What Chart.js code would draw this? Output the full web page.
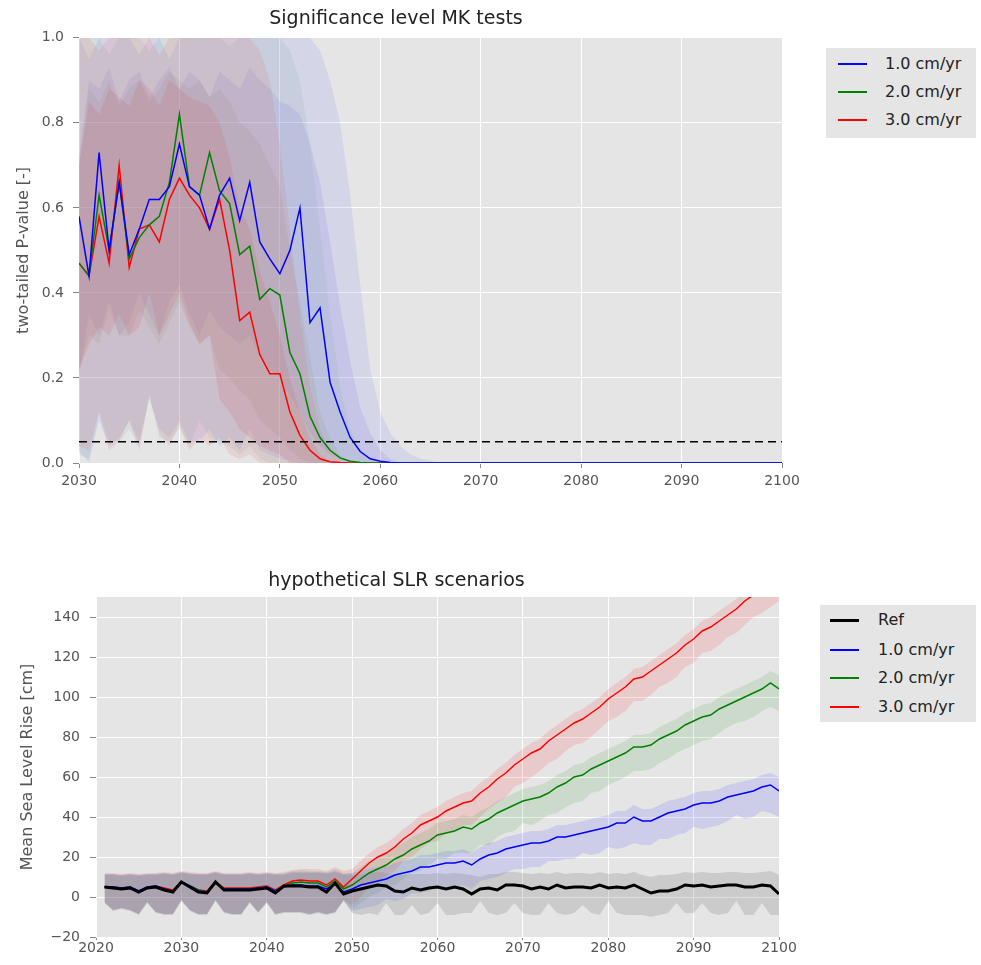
<!DOCTYPE html>
<html>
<head>
<meta charset="utf-8">
<script src="https://cdn.jsdelivr.net/npm/chart.js@4"></script>
<style>
  body { margin: 0; background: #fff; width: 981px; height: 965px; position: relative; overflow: hidden; font-family: 'DejaVu Sans', sans-serif; }
  canvas { position: absolute; left: 0; }
  .legend { position: absolute; background: #e5e5e5; }
  .legend .row { position: absolute; left: 0; height: 20px; width: 100%; }
  .legend .swatch { position: absolute; width: 29px; }
  .legend .txt { position: absolute; top: 0; font-size: 16px; line-height: 20px; color: #222; white-space: nowrap; }
</style>
</head>
<body>
<canvas id="pChart" width="861" height="500" style="top:0"></canvas>
<canvas id="slrChart" width="875" height="410" style="top:555px"></canvas>
<div id="legendTop" class="legend" style="left:826px; top:48px; width:150px; height:90px"></div>
<div id="legendBottom" class="legend" style="left:820px; top:605px; width:156px; height:117px"></div>
<script>
// ---------- top chart: MK test p-values ----------
const pYears = [];
for (let y = 2030; y <= 2100; y++) pYears.push(y);
const scenarios = ['1.0 cm/yr', '2.0 cm/yr', '3.0 cm/yr'];
const pThreshold = 0.05;

const pBlue = [0.58,0.44,0.73,0.50,0.66,0.49,0.55,0.62,0.62,0.65, 0.75,0.65,0.63,0.55,0.63,0.67,0.57,0.66,0.52,0.48,
  0.445,0.50,0.60,0.33,0.365,0.19,0.12,0.06,0.027,0.01, 0.004,0.001,0,0,0,0,0,0,0,0,
  0,0,0,0,0,0,0,0,0,0, 0,0,0,0,0,0,0,0,0,0, 0,0,0,0,0,0,0,0,0,0, 0];
const pGreen = [0.47,0.44,0.63,0.50,0.66,0.48,0.53,0.56,0.58,0.66, 0.82,0.65,0.63,0.73,0.64,0.61,0.49,0.51,0.385,0.41,
  0.395,0.26,0.21,0.11,0.06,0.03,0.012,0.004,0.001,0, 0,0,0,0,0,0,0,0,0,0,
  0,0,0,0,0,0,0,0,0,0, 0,0,0,0,0,0,0,0,0,0, 0,0,0,0,0,0,0,0,0,0, 0];
const pRed = [0.47,0.44,0.58,0.47,0.70,0.46,0.55,0.56,0.52,0.62, 0.67,0.63,0.60,0.55,0.62,0.50,0.335,0.355,0.255,0.21,
  0.21,0.12,0.065,0.03,0.01,0.003,0.001,0,0,0, 0,0,0,0,0,0,0,0,0,0,
  0,0,0,0,0,0,0,0,0,0, 0,0,0,0,0,0,0,0,0,0, 0,0,0,0,0,0,0,0,0,0, 0];

// percentile bands (from 2030 onward)
const blueP95 = [1,0.95,1,1,1,1,0.96,1,1,0.95, 1,1,1,1,1,1,1,1,1,1, 1,1,1,1,0.97,0.9,0.8,0.63,0.42,0.22, 0.12,0.07,0.04,0.02,0.01,0.005,0];
const blueP75 = [0.72,0.9,0.88,0.93,0.85,0.9,0.92,0.86,0.9,0.93, 0.88,0.92,0.9,0.86,0.92,0.9,0.88,0.93,0.9,0.88, 0.85,0.84,0.82,0.75,0.66,0.52,0.37,0.24,0.13,0.07, 0.03,0.01,0,0,0,0,0];
const blueP25 = [0.2,0.35,0.3,0.38,0.3,0.33,0.4,0.35,0.3,0.38, 0.42,0.35,0.3,0.36,0.32,0.3,0.28,0.3,0.25,0.22, 0.2,0.16,0.12,0.07,0.04,0.02,0.01,0,0,0, 0,0,0,0,0,0,0];
const blueP5 = [0.02,0.01,0.1,0.04,0.06,0.1,0.05,0.15,0.08,0.06, 0.1,0.05,0.05,0.08,0.04,0.06,0.03,0.08,0.03,0.02, 0.01,0.005,0,0,0,0,0,0,0,0, 0,0,0,0,0,0,0];

const greenP95 = [1,1,1,0.96,1,1,1,0.97,1,1, 1,1,1,1,1,0.98,1,1,1,1, 1,0.97,0.9,0.75,0.55,0.35,0.18,0.08,0.03,0.01, 0];
const greenP75 = [0.7,0.88,0.85,0.9,0.84,0.88,0.9,0.85,0.88,0.92, 0.9,0.88,0.9,0.86,0.88,0.85,0.8,0.78,0.75,0.7, 0.65,0.5,0.38,0.25,0.12,0.06,0.02,0,0,0, 0];
const greenP25 = [0.22,0.3,0.28,0.36,0.3,0.3,0.36,0.32,0.28,0.33, 0.38,0.32,0.28,0.3,0.22,0.2,0.17,0.15,0.1,0.08, 0.06,0.03,0.01,0,0,0,0,0,0,0, 0];
const greenP5 = [0.03,0,0.12,0.05,0.05,0.08,0.04,0.16,0.06,0.05, 0.08,0.04,0.1,0.06,0.05,0.04,0.02,0.04,0.01,0, 0,0,0,0,0,0,0,0,0,0, 0];

const redP95 = [1,1,0.97,1,1,1,1,1,0.96,1, 1,1,1,1,1,1,1,1,0.97,0.9, 0.75,0.55,0.35,0.18,0.08,0.03,0.01,0];
const redP75 = [0.7,0.85,0.82,0.88,0.86,0.84,0.9,0.88,0.84,0.9, 0.88,0.86,0.85,0.84,0.8,0.72,0.6,0.55,0.45,0.38, 0.3,0.2,0.12,0.06,0.02,0,0,0];
const redP25 = [0.22,0.28,0.32,0.3,0.35,0.3,0.32,0.4,0.3,0.35, 0.4,0.33,0.28,0.3,0.15,0.12,0.08,0.06,0.04,0.03, 0.02,0,0,0,0,0,0,0];
const redP5 = [0.04,0.03,0.12,0.03,0.05,0.1,0.03,0.16,0.07,0.04, 0.09,0.03,0.06,0.04,0.06,0.02,0.01,0.02,0,0, 0,0,0,0,0,0,0,0];

// ---------- bottom chart: SLR scenarios ----------
const slrYears = [];
for (let y = 2021; y <= 2100; y++) slrYears.push(y);

const slrRef = [5,4.5,4,4.5,2.5,4.5,5,3.5,2.5,7.5, 5,2.5,2,7.5,3.5,3.5,3.5,3.5,4,4.5,
  2,5.5,5.5,5.5,5,5,2.5,7,1.5,3, 4,5,6,5.5,3,2.5,4.5,3.5,4.5,5,
  4,5,4,1.5,4,4.5,3.5,6,6,5.5, 4,5,4,6,4.5,5,5,4.5,6,4.5,
  5,4.5,6,4,2,3,3,4,6,5.5, 6,5,5.5,6,6,5,5,6,5.5,1.5];
const slrBlue = [5,5,4.5,5,3,5,5.5,4,3,7.5, 5.5,3,2.5,7,4,4,4,4,4.5,5,
  3,5,6,6,5.5,5.5,4,6.5,2.5,4, 6,7,8,9,11,12,13,15,15,16,
  17,17,18,16,19,21,22,24,25,26, 27,27,28,30,30,31,32,33,34,35,
  37,37,40,38,38,40,42,43,44,46, 47,47,48,50,51,52,53,55,56,53];
const slrGreen = [5,5,4.5,5,3,5,5.5,4,3,7.5, 5.5,3.5,2.5,7,4,4,4,4,4.5,5,
  3,5.5,7,7.5,7,7,5,8,4,6, 9,12,14,16,19,21,24,26,28,31,
  32,33,35,34,37,39,42,44,46,48, 49,50,52,55,57,60,61,64,66,68,
  70,72,75,75,76,79,81,83,86,88, 90,91,94,96,98,100,102,104,107,104];
const slrRed = [5,5,4.5,5,3,5,5.5,4.5,3.5,7.5, 5.5,3.5,3,7.5,4.5,4.5,4.5,4.5,5,5.5,
  3.5,6,8,8.5,8,8,6,9,5,9, 13,17,20,22,25,29,32,36,38,40,
  43,45,47,48,52,55,59,62,66,69, 72,74,78,81,84,87,89,92,95,99,
  102,105,109,110,113,116,119,122,126,129, 133,135,138,141,144,148,151,154,157,160];

const refLo = [-3,-7,-6,-7,-9,-3,-8,-9,-9,-2, -7,-9,-9,-2,-8,-9,-9,-3,-8,-3,
  -9,-8,-8,-8,-9,-8,-9,-8,-2,-8, -9,-8,-9,-3,-9,-9,-4,-9,-8,-3,
  -9,-9,-8,-8,-2,-8,-9,-8,-3,-8, -9,-9,-3,-8,-9,-8,-4,-8,-9,-2,
  -8,-9,-9,-9,-10,-9,-8,-3,-8,-8, -3,-8,-9,-8,-2,-9,-9,-3,-9,-9];
const refHi = [11,11,10.5,11,10.5,11,11,11.5,11,12, 11.5,11,11,12,11,11,11,11.5,11,11.5,
  11,11,12,12,12,12,11.5,12.5,11,11, 11,12,12.5,12,11,11,11.5,11.5,11.5,12,
  11.5,12,11.5,11,10,11.5,11.5,12.5,12.5,12, 11.5,12,11.5,12.5,11.5,12,12,11.5,12.5,11.5,
  12,11.5,12.5,11,10,11,11,11.5,12.5,12, 12.5,12,12,12.5,12.5,12,12,12.5,13,11];
const blueLo = [-2.5,-6.5,-5.5,-6.5,-8.5,-2.5,-7.5,-8.5,-8.5,-1.5, -6.5,-8.5,-8.5,-1.5,-7.5,-8.5,-8.5,-2.5,-7.5,-2.5,
  -8.5,-7.5,-7.5,-7.5,-8.5,-7.5,-8.5,-7.5,-1.5,-7, -6,-5,-4,-1,-2,-1,2,2,3,5,
  4,5,6,4,8,9,10,12,14,14, 15,15,18,18,19,19,22,21,22,25,
  24,25,27,26,26,29,29,31,32,35, 34,35,36,38,41,39,40,43,42,40];
const blueHi = [11.5,11.5,11,11.5,11,11.5,11.5,12,11.5,12.5, 12,11.5,11.5,12.5,11.5,11.5,11.5,12,11.5,12,
  11.5,11.5,12.5,12.5,12.5,12.5,12,13,11.5,12, 13,14,15,15,17,18,19,21,21,22,
  23,23,24,22,25,27,28,30,31,32, 33,33,34,36,36,37,38,39,40,41,
  43,43,46,44,44,46,48,49,50,52, 53,53,54,56,57,58,59,61,62,60];
const greenLo = [-2.5,-6.5,-5.5,-6.5,-8.5,-2.5,-7.5,-8.5,-8.5,-1.5, -6.5,-8.5,-8.5,-1.5,-7.5,-8.5,-8.5,-2.5,-7.5,-2.5,
  -8.5,-7.5,-7.5,-7.5,-8.5,-7.5,-8.5,-7.5,-1.5,-6, -3,0,2,5,6,9,12,13,16,19,
  19,22,22,22,26,26,30,32,33,37, 36,38,41,42,45,47,48,52,53,56,
  58,60,63,63,64,67,69,72,74,76, 78,79,82,85,87,88,90,93,95,93];
const greenHi = [11.5,11.5,11,11.5,11,11.5,11.5,12,11.5,12.5, 11.5,11.5,11.5,12.5,11.5,11.5,11.5,12,11.5,12,
  11.5,12,13,13.5,13,13,12.5,14,12,12, 15,18,20,22,25,27,30,32,34,37,
  38,39,41,40,43,45,48,50,52,54, 55,56,58,61,63,66,67,70,72,74,
  76,78,81,81,82,85,87,89,92,94, 96,97,100,102,104,106,108,110,113,111];
const redLo = [-2.5,-6.5,-5.5,-6.5,-8.5,-2.5,-7.5,-8.5,-8.5,-1.5, -6.5,-8.5,-8.5,-1.5,-7.5,-8.5,-8.5,-2.5,-7.5,-2.5,
  -8.5,-7.5,-7.5,-7.5,-8.5,-7.5,-8.5,-7.5,-1.5,-4, 0,5,8,11,13,18,20,24,27,28,
  32,33,36,36,40,44,47,50,55,57, 60,63,67,69,73,76,77,80,84,88,
  90,93,98,98,101,105,107,110,115,117, 122,123,126,130,132,136,140,142,145,148];
const redHi = [12,12,11.5,12,11.5,12,12,12.5,12,13, 12.5,12,12,13,12,12,12,12.5,12,12.5,
  12,12.5,13.5,14,14,14,13,15,13,14, 18,22,25,27,30,34,37,41,43,45,
  48,50,52,53,57,60,64,67,71,74, 77,79,83,86,89,92,94,97,100,104,
  107,110,114,115,118,121,124,127,131,134, 138,140,143,146,149,153,156,159,162,165];

// ---------- helpers ----------
Chart.defaults.font.family = "'DejaVu Sans', sans-serif";

const pts = (xs, ys) => ys.map((y, i) => ({ x: xs[i], y: y }));

function band(xs, hi, lo, color) {
    return [
        { data: pts(xs, hi), borderWidth: 0, borderColor: 'transparent', pointRadius: 0, fill: '+1', backgroundColor: color, order: 10 },
        { data: pts(xs, lo), borderWidth: 0, borderColor: 'transparent', pointRadius: 0, fill: false, order: 10 }
    ];
}

function line(xs, ys, color, width, order) {
    return { data: pts(xs, ys), borderColor: color, borderWidth: width, pointRadius: 0, fill: false, tension: 0, order: order };
}

const plotBg = {
    id: 'plotBg',
    beforeDraw(chart) {
        const { ctx, chartArea: a } = chart;
        ctx.save();
        ctx.fillStyle = '#e5e5e5';
        ctx.fillRect(a.left, a.top, a.width, a.height);
        ctx.restore();
    }
};

const tickFont = { size: 14 };

// ---------- top chart ----------
new Chart(document.getElementById('pChart'), {
    type: 'line',
    data: {
        datasets: [
            ...band(pYears, redP95, redP5, 'rgba(225,110,110,0.17)'),
            ...band(pYears, redP75, redP25, 'rgba(200,90,100,0.17)'),
            ...band(pYears, greenP95, greenP5, 'rgba(120,175,165,0.15)'),
            ...band(pYears, greenP75, greenP25, 'rgba(150,150,110,0.15)'),
            ...band(pYears, blueP95, blueP5, 'rgba(120,120,245,0.15)'),
            ...band(pYears, blueP75, blueP25, 'rgba(120,110,220,0.15)'),
            line(pYears, pRed, '#ff0000', 1.5, 3),
            line(pYears, pGreen, '#008000', 1.5, 2),
            line(pYears, pBlue, '#0000ff', 1.5, 1),
            { data: [{ x: 2030, y: pThreshold }, { x: 2100, y: pThreshold }], borderColor: '#000', borderWidth: 1.5,
              borderDash: [8, 5], pointRadius: 0, fill: false, order: 0 }
        ]
    },
    options: {
        responsive: false,
        animation: false,
        devicePixelRatio: 1,
        layout: { padding: { left: 10, right: 79, top: 8, bottom: 7 } },
        plugins: {
            legend: { display: false },
            tooltip: { enabled: false },
            title: { display: true, text: 'Significance level MK tests', color: '#222',
                     font: { size: 19, weight: 'normal' }, padding: { top: 0, bottom: 7 } }
        },
        scales: {
            x: {
                type: 'linear', min: 2030, max: 2100,
                ticks: { stepSize: 10, color: '#555', font: tickFont, padding: 5, callback: v => String(v) },
                grid: { color: '#fff', tickColor: '#888', tickLength: 5 },
                border: { display: false },
                afterFit: s => { s.height = 30; }
            },
            y: {
                min: 0, max: 1,
                ticks: { stepSize: 0.2, color: '#555', font: tickFont, padding: 9, callback: v => v.toFixed(1) },
                grid: { color: '#fff', tickColor: '#888', tickLength: 6 },
                border: { display: false },
                title: { display: true, text: 'two-tailed P-value [-]', color: '#555', font: { size: 16 } },
                afterFit: s => { s.width = 69; }
            }
        }
    },
    plugins: [plotBg]
});

// ---------- bottom chart ----------
new Chart(document.getElementById('slrChart'), {
    type: 'line',
    data: {
        datasets: [
            ...band(slrYears, refHi, refLo, 'rgba(120,120,120,0.24)'),
            ...band(slrYears, blueHi, blueLo, 'rgba(70,70,255,0.15)'),
            ...band(slrYears, greenHi, greenLo, 'rgba(40,150,40,0.13)'),
            ...band(slrYears, redHi, redLo, 'rgba(255,70,70,0.17)'),
            line(slrYears, slrRed, '#ff0000', 1.5, 3),
            line(slrYears, slrGreen, '#008000', 1.5, 2),
            line(slrYears, slrBlue, '#0000ff', 1.5, 1),
            line(slrYears, slrRef, '#000000', 3, 0)
        ]
    },
    options: {
        responsive: false,
        animation: false,
        devicePixelRatio: 1,
        layout: { padding: { left: 14, right: 96, top: 15, bottom: 2 } },
        plugins: {
            legend: { display: false },
            tooltip: { enabled: false },
            title: { display: true, text: 'hypothetical SLR scenarios', color: '#222',
                     font: { size: 19, weight: 'normal' }, padding: { top: 0, bottom: 4.2 } }
        },
        scales: {
            x: {
                type: 'linear', min: 2020, max: 2100,
                ticks: { stepSize: 10, color: '#555', font: tickFont, padding: 0, callback: v => String(v) },
                grid: { color: '#fff', tickColor: '#888', tickLength: 3 },
                border: { display: false },
                afterFit: s => { s.height = 26; }
            },
            y: {
                min: -20, max: 150,
                ticks: { stepSize: 20, color: '#555', font: tickFont, padding: 10,
                         callback: v => v > 140 ? '' : String(v).replace('-', '\u2212') },
                grid: {
                    color: c => (c.tick && c.tick.value > 140) ? 'transparent' : '#fff',
                    tickColor: c => (c.tick && c.tick.value > 140) ? 'transparent' : '#888',
                    tickLength: 6
                },
                border: { display: false },
                title: { display: true, text: 'Mean Sea Level Rise [cm]', color: '#555', font: { size: 16 } },
                afterFit: s => { s.width = 82; }
            }
        }
    },
    plugins: [plotBg]
});

// ---------- legends (outside the axes, as in the original) ----------
function buildLegend(el, items, rowTops, handleLeft, textLeft) {
    items.forEach((it, i) => {
        const row = document.createElement('div');
        row.className = 'row';
        row.style.top = rowTops[i] + 'px';
        const sw = document.createElement('div');
        sw.className = 'swatch';
        sw.style.left = handleLeft + 'px';
        sw.style.top = (10 - it.width / 2) + 'px';
        sw.style.height = it.width + 'px';
        sw.style.background = it.color;
        const tx = document.createElement('div');
        tx.className = 'txt';
        tx.style.left = textLeft + 'px';
        tx.textContent = it.label;
        row.appendChild(sw);
        row.appendChild(tx);
        el.appendChild(row);
    });
}

const lineColors = ['#0000ff', '#008000', '#ff0000'];
buildLegend(document.getElementById('legendTop'),
    scenarios.map((s, i) => ({ label: s, color: lineColors[i], width: 2 })),
    [6, 34, 62], 12, 59);
buildLegend(document.getElementById('legendBottom'),
    [{ label: 'Ref', color: '#000000', width: 3 }].concat(scenarios.map((s, i) => ({ label: s, color: lineColors[i], width: 2 }))),
    [5, 35, 63, 92], 10, 58);
</script>
</body>
</html>
